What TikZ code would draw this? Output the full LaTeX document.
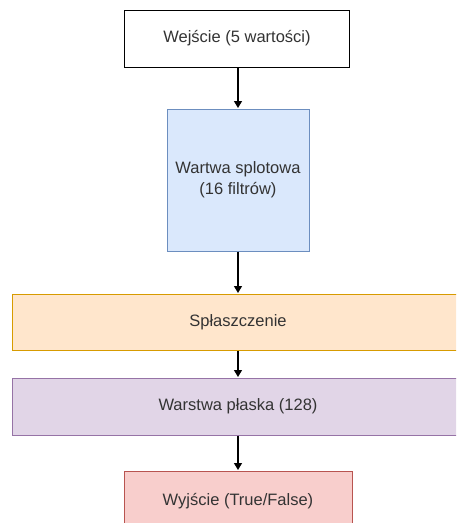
\documentclass[tikz,border=0pt]{standalone}
\usepackage{fontspec}
\setmainfont{Liberation Sans}
\usetikzlibrary{arrows.meta}
\definecolor{txt}{HTML}{333333}
\definecolor{bluef}{HTML}{DAE8FC}\definecolor{blued}{HTML}{6C8EBF}
\definecolor{orf}{HTML}{FFE6CC}\definecolor{ord}{HTML}{D79B00}
\definecolor{puf}{HTML}{E1D5E7}\definecolor{pud}{HTML}{9673A6}
\definecolor{ref}{HTML}{F8CECC}\definecolor{red}{HTML}{B85450}
\tikzset{
  box/.style={draw, line width=1pt, text=txt, font=\fontsize{16.5}{21}\selectfont, align=center, inner sep=0pt},
  conn/.style={-{Triangle[length=7pt,width=8pt]}, line width=1.2pt, shorten >=0.5pt},
}
\begin{document}
\begin{tikzpicture}[x=1pt,y=-1pt]
\useasboundingbox (0,0) rectangle (456,523);
\clip (0,0) rectangle (456,523);
\node[box, fill=white, draw=black, minimum width=225pt, minimum height=57pt] (in) at (237,38.5) {Wejście (5 wartości)};
\node[box, fill=bluef, draw=blued, minimum width=142pt, minimum height=142pt] (conv) at (238,180) {Wartwa splotowa\\(16 filtrów)};
\node[box, fill=orf, draw=ord, minimum width=452pt, minimum height=56pt] (flat) at (238,322) {Spłaszczenie};
\node[box, fill=puf, draw=pud, minimum width=452pt, minimum height=57pt] (dense) at (238,406.5) {Warstwa płaska (128)};
\node[box, fill=ref, draw=red, minimum width=228pt, minimum height=60pt] (out) at (238,501) {Wyjście (True/False)};
\draw[conn] (in.south -| conv.north) -- (conv.north);
\draw[conn] (conv.south) -- (flat.north -| conv.south);
\draw[conn] (flat.south -| conv.south) -- (dense.north -| conv.south);
\draw[conn] (dense.south -| conv.south) -- (out.north);
\end{tikzpicture}
\end{document}
